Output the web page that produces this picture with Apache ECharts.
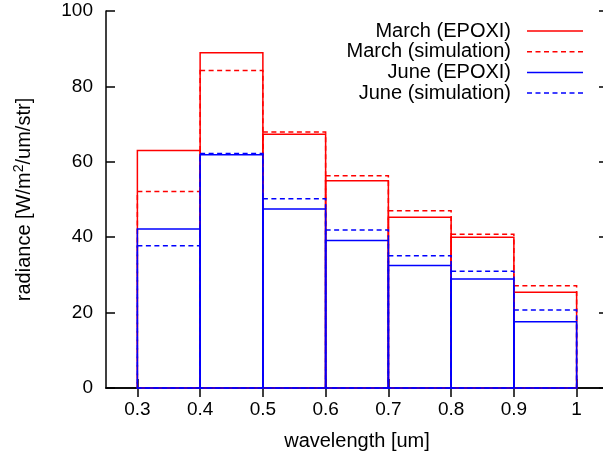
<!DOCTYPE html>
<html>
<head>
<meta charset="utf-8">
<script src="https://cdn.jsdelivr.net/npm/echarts@6/dist/echarts.min.js"></script>
<style>
html,body{margin:0;padding:0;background:#fff;}
#chart{width:603px;height:454px;}
</style>
</head>
<body>
<div id="chart"></div>
<script>
var binStart = [0.3, 0.4, 0.5, 0.6, 0.7, 0.8, 0.9];
var binEnd   = [0.4, 0.5, 0.6, 0.7, 0.8, 0.9, 1.0];
var marchEpoxi = [63.0, 88.9, 67.3, 55.0, 45.3, 40.0, 25.4];
var marchSim   = [52.1, 84.2, 67.9, 56.3, 47.0, 40.8, 27.1];
var juneEpoxi  = [42.2, 61.9, 47.5, 39.1, 32.5, 28.9, 17.6];
var juneSim    = [37.7, 62.2, 50.2, 41.9, 35.1, 31.0, 20.7];
var xTicks = [0.3, 0.4, 0.5, 0.6, 0.7, 0.8, 0.9, 1.0];
var seriesNames = ['March (EPOXI)', 'March (simulation)', 'June (EPOXI)', 'June (simulation)'];

var FONT = '"Liberation Sans", Arial, Helvetica, sans-serif';
var DASH = [5, 3.5];
var solidIcon = 'path://M0,0h56v1.5h-56z';
var dashedIcon = 'path://M0,0h5v1.5h-5z M8.5,0h5v1.5h-5z M17,0h5v1.5h-5z M25.5,0h5v1.5h-5z M34,0h5v1.5h-5z M42.5,0h5v1.5h-5z M51,0h5v1.5h-5z';

function makeData(vals) {
  return vals.map(function (v, i) { return [binStart[i], binEnd[i], v]; });
}

function makeSeries(name, vals, color, dashed) {
  return {
    type: 'custom',
    name: name,
    itemStyle: { color: color },
    data: makeData(vals),
    encode: { x: [0, 1], y: 2 },
    renderItem: function (params, api) {
      var p0 = api.coord([api.value(0), 0]);
      var p1 = api.coord([api.value(1), api.value(2)]);
      return {
        type: 'rect',
        shape: { x: p0[0], y: p1[1], width: p1[0] - p0[0], height: p0[1] - p1[1] },
        style: { fill: 'none', stroke: color, lineWidth: 1.5, lineDash: dashed ? DASH : null }
      };
    }
  };
}

var chart = echarts.init(document.getElementById('chart'), null, { renderer: 'canvas' });
var axisLineStyle = { color: '#000', width: 1.5 };
var option = {
  animation: false,
  backgroundColor: '#fff',
  grid: { left: 106, top: 11, width: 502, height: 377, outerBoundsMode: 'none', containLabel: false },
  legend: {
    orient: 'vertical',
    right: 20,
    top: 21,
    padding: 0,
    align: 'right',
    itemWidth: 56,
    itemHeight: 1.5,
    itemGap: 0.7,
    selectedMode: false,
    symbolKeepAspect: false,
    textStyle: { fontFamily: FONT, fontSize: 20, color: '#000', lineHeight: 20, padding: [0, 11, 0, 0] },
    data: [
      { name: seriesNames[0], icon: solidIcon },
      { name: seriesNames[1], icon: dashedIcon },
      { name: seriesNames[2], icon: solidIcon },
      { name: seriesNames[3], icon: dashedIcon }
    ]
  },
  xAxis: [{
    type: 'value',
    min: 0.25,
    max: 1.05,
    position: 'bottom',
    name: 'wavelength [um]',
    nameLocation: 'middle',
    nameGap: 43,
    nameTextStyle: { fontFamily: FONT, fontSize: 20, color: '#000' },
    axisLine: { show: true, lineStyle: axisLineStyle },
    axisTick: { show: true, inside: true, length: 9, customValues: xTicks, lineStyle: axisLineStyle },
    axisLabel: {
      show: true, margin: 12, customValues: xTicks,
      fontFamily: FONT, fontSize: 19, color: '#000',
      formatter: function (v) { return String(Math.round(v * 10) / 10); }
    },
    splitLine: { show: false }
  }, {
    type: 'value',
    min: 0.25,
    max: 1.05,
    position: 'top',
    axisLine: { show: true, lineStyle: axisLineStyle },
    axisTick: { show: true, inside: true, length: 9, customValues: xTicks, lineStyle: axisLineStyle },
    axisLabel: { show: false },
    splitLine: { show: false }
  }],
  yAxis: [{
    type: 'value',
    min: 0,
    max: 100,
    interval: 20,
    position: 'left',
    name: 'radiance [W/m{s|2}/um/str]',
    nameLocation: 'middle',
    nameGap: 70,
    nameTextStyle: {
      fontFamily: FONT, fontSize: 20, color: '#000',
      rich: { s: { fontFamily: FONT, fontSize: 14, color: '#000', verticalAlign: 'top', padding: [0, 0, 10, 0] } }
    },
    axisLine: { show: true, lineStyle: axisLineStyle },
    axisTick: { show: true, inside: true, length: 9, lineStyle: axisLineStyle },
    axisLabel: { show: true, margin: 13, fontFamily: FONT, fontSize: 19, color: '#000' },
    splitLine: { show: false }
  }, {
    type: 'value',
    min: 0,
    max: 100,
    interval: 20,
    position: 'right',
    axisLine: { show: true, lineStyle: axisLineStyle },
    axisTick: { show: true, inside: true, length: 9, lineStyle: axisLineStyle },
    axisLabel: { show: false },
    splitLine: { show: false }
  }],
  series: [
    makeSeries(seriesNames[0], marchEpoxi, '#ff0000', false),
    makeSeries(seriesNames[1], marchSim, '#ff0000', true),
    makeSeries(seriesNames[2], juneEpoxi, '#0000ff', false),
    makeSeries(seriesNames[3], juneSim, '#0000ff', true)
  ]
};
chart.setOption(option);
</script>
</body>
</html>
